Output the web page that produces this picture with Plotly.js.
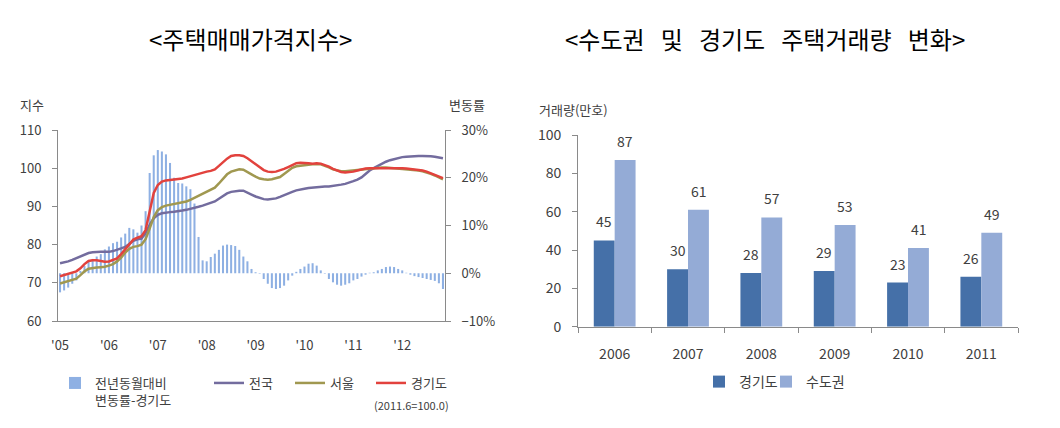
<!DOCTYPE html>
<html>
<head>
<meta charset="utf-8">
<script src="https://cdn.plot.ly/plotly-3.0.1.min.js"></script>
<style>html,body{margin:0;padding:0;background:#fff;}#chart{width:1060px;height:428px;}</style>
</head>
<body>
<div id="chart"></div>
<script>
// ---------- Left chart: 주택매매가격지수 (monthly, Jan 2005 – Nov 2012) ----------
const yearTickLabels = ["'05","'06","'07","'08","'09","'10","'11","'12"];
const nationalIndex = [75.1,75.3,75.6,76.0,76.5,77.0,77.5,77.8,78.0,78.1,78.1,78.1,
  78.1,78.3,78.6,79.0,79.4,80.2,81.0,81.4,81.6,83.0,85.2,86.9,
  87.8,88.2,88.4,88.5,88.6,88.7,88.9,89.1,89.3,89.5,89.9,90.2,
  90.5,90.9,91.3,92.0,92.8,93.4,93.8,94.0,94.1,94.1,93.7,93.1,
  92.6,92.2,91.9,91.8,91.9,92.1,92.5,93.0,93.4,93.8,94.2,94.5,
  94.6,94.8,94.9,95.0,95.2,95.2,95.2,95.3,95.4,95.7,95.9,96.2,
  96.6,97.0,97.6,98.5,99.4,100.0,100.6,101.2,101.7,102.1,102.4,102.7,
  102.9,103.0,103.1,103.2,103.2,103.2,103.2,103.1,103.0,102.8,102.6];
const seoulIndex = [69.8,70.1,70.4,70.7,71.1,72.0,73.0,73.7,73.9,74.0,74.1,74.2,
  74.5,74.9,75.6,76.6,77.9,78.9,79.4,79.6,80.0,81.4,84.2,87.2,
  89.0,89.8,90.2,90.4,90.6,90.8,91.0,91.3,91.7,92.2,92.7,93.2,
  93.7,94.2,94.9,96.0,97.3,98.4,99.1,99.5,99.7,99.6,99.1,98.4,
  97.8,97.3,97.1,97.0,97.1,97.3,97.7,98.5,99.4,100.1,100.5,100.7,
  100.8,100.9,101.0,101.1,101.0,100.7,100.2,99.7,99.4,99.2,99.2,99.3,
  99.4,99.6,99.8,99.9,100.0,100.0,100.1,100.2,100.2,100.1,100.1,100.0,
  99.9,99.8,99.7,99.6,99.4,99.2,98.9,98.5,98.1,97.6,97.1];
const gyeonggiIndex = [71.7,72.0,72.3,72.6,73.0,73.8,74.9,75.7,75.9,75.9,75.7,75.5,
  75.6,75.9,76.4,77.5,78.8,80.3,81.3,81.8,82.2,83.8,88.5,93.5,
  95.6,96.5,96.8,96.9,97.0,97.1,97.3,97.6,97.9,98.3,98.6,98.9,
  99.1,99.3,99.7,100.6,101.6,102.5,103.2,103.4,103.4,103.2,102.6,101.8,
  101.0,100.1,99.5,99.1,99.0,99.1,99.4,99.8,100.3,100.9,101.3,101.4,
  101.4,101.3,101.2,101.3,101.2,100.9,100.4,99.8,99.3,99.0,98.9,99.0,
  99.1,99.4,99.7,99.9,100.0,100.0,100.0,100.1,100.1,100.1,100.0,100.0,
  100.0,99.9,99.8,99.7,99.6,99.4,99.1,98.7,98.3,97.8,97.4];
const gyeonggiYoY = [-4.0,-3.6,-3.0,-2.2,-1.5,0.5,1.5,2.5,3.0,3.5,4.0,5.0,
  5.6,6.3,6.6,7.5,8.3,9.5,9.2,8.5,10.0,13.0,21.0,24.7,
  25.8,25.5,24.9,23.1,20.0,18.9,18.8,18.2,17.6,14.6,7.6,2.7,
  2.5,3.4,4.1,4.9,5.8,6.0,5.9,5.7,4.9,3.5,2.5,0.9,
  0.2,-0.1,-1.2,-2.2,-3.1,-3.3,-3.1,-2.6,-1.5,-0.5,0.3,0.9,
  1.4,2.0,2.1,1.6,0.6,-0.1,-1.2,-1.9,-2.4,-2.6,-2.4,-2.1,
  -1.5,-1.2,-0.7,-0.3,0.1,0.2,0.6,0.9,1.3,1.4,1.3,0.9,
  0.6,0.1,-0.3,-0.6,-0.8,-1.0,-1.2,-1.4,-1.6,-2.1,-3.3];
const leftSeriesNames = ["전년동월대비<br>변동률-경기도","전국","서울","경기도"];

// ---------- Right chart: 수도권 및 경기도 주택거래량 변화 ----------
const years = ["2006","2007","2008","2009","2010","2011"];
const gyeonggiVolume = [45,30,28,29,23,26];
const capitalVolume = [87,61,57,53,41,49];
const rightSeriesNames = ["경기도","수도권"];

// ---------- styles ----------
const FONT = "'Noto Sans CJK KR','Noto Sans',sans-serif";
const TXT = '#404040';
const AX = '#8a8a8a';
const W = 1060, H = 428;
const px = v => v / W;
const py = v => 1 - v / H;
const SP = '\u00a0\u00a0 ';

const months = gyeonggiIndex.map((_, i) => i);
const yearTicks = yearTickLabels.map((_, k) => k * 12);
const yearIdx = years.map((_, k) => k);

const traces = [
  {type:'bar', x:months, y:gyeonggiYoY, name:leftSeriesNames[0], xaxis:'x', yaxis:'y',
   width:0.5, marker:{color:'#8eb0e3'}, legend:'legend', showlegend:true, hoverinfo:'skip'},
  {type:'scatter', mode:'lines', x:months, y:nationalIndex, name:leftSeriesNames[1], xaxis:'x', yaxis:'y2',
   line:{color:'#736c9e', width:2.5}, legend:'legend3', showlegend:true},
  {type:'scatter', mode:'lines', x:months, y:seoulIndex, name:leftSeriesNames[2], xaxis:'x', yaxis:'y2',
   line:{color:'#a09850', width:2.5}, legend:'legend3', showlegend:true},
  {type:'scatter', mode:'lines', x:months, y:gyeonggiIndex, name:leftSeriesNames[3], xaxis:'x', yaxis:'y2',
   line:{color:'#e2423d', width:2.5}, legend:'legend3', showlegend:true},
  {type:'bar', x:yearIdx, y:gyeonggiVolume, name:rightSeriesNames[0], xaxis:'x2', yaxis:'y3',
   marker:{color:'#4570a8'}, legend:'legend2', showlegend:true},
  {type:'bar', x:yearIdx, y:capitalVolume, name:rightSeriesNames[1], xaxis:'x2', yaxis:'y3',
   marker:{color:'#94abd6'}, legend:'legend4', showlegend:true}
];

const ann = (text, x, y, size, color) => ({text, xref:'paper', yref:'paper', x:px(x), y:py(y),
  xanchor:'center', yanchor:'middle', showarrow:false, font:{family:FONT, size, color}});
const annotations = [
  ann('&lt;주택매매가격지수&gt;', 250, 39, 24, '#000'),
  ann('&lt;수도권' + SP + '및' + SP + '경기도' + SP + '주택거래량' + SP + '변화&gt;', 765, 39, 24, '#000'),
  ann('지수', 32, 104, 13, TXT),
  ann('변동률', 467, 104, 13, TXT),
  ann('(2011.6=100.0)', 411, 405, 11, TXT),
  ann('거래량(만호)', 573, 109, 13, TXT)
];
yearIdx.forEach(k => {
  annotations.push({text:String(gyeonggiVolume[k]), xref:'x2', yref:'y3', x:k, y:gyeonggiVolume[k],
    xanchor:'center', xshift:-10.5, yshift:19, yanchor:'middle', showarrow:false, font:{family:FONT, size:14, color:TXT}});
  annotations.push({text:String(capitalVolume[k]), xref:'x2', yref:'y3', x:k, y:capitalVolume[k],
    xanchor:'center', xshift:10.5, yshift:19, yanchor:'middle', showarrow:false, font:{family:FONT, size:14, color:TXT}});
});

const legendBase = size => ({orientation:'h', xanchor:'left', yanchor:'top',
  bgcolor:'rgba(0,0,0,0)', font:{family:FONT, size, color:TXT}, visible:true, traceorder:'normal'});

const layout = {
  width:W, height:H, margin:{l:0, r:0, t:0, b:0}, showlegend:true,
  paper_bgcolor:'#fff', plot_bgcolor:'rgba(0,0,0,0)',
  font:{family:FONT, size:13, color:TXT},
  barmode:'group', bargap:0.43, bargroupgap:0,
  xaxis:{domain:[px(58), px(445)], range:[-0.5, months.length - 0.5], anchor:'y',
    tickmode:'array', tickvals:yearTicks, ticktext:yearTickLabels, ticks:'', ticklabelstandoff:12,
    showline:true, linecolor:AX, linewidth:1, showgrid:false, zeroline:false,
    tickfont:{family:FONT, size:13, color:TXT}},
  yaxis:{domain:[py(321), py(130)], range:[-10, 30], side:'right', anchor:'x',
    dtick:10, ticksuffix:'%', ticks:'outside', ticklen:5, tickcolor:AX, ticklabelstandoff:8,
    showline:true, linecolor:AX, showgrid:false, zeroline:false, tickfont:{family:FONT, size:13, color:TXT}},
  yaxis2:{overlaying:'y', side:'left', range:[60, 110], anchor:'x', dtick:10,
    ticks:'outside', ticklen:5, tickcolor:AX, ticklabelstandoff:8,
    showline:true, linecolor:AX, showgrid:false, zeroline:false, tickfont:{family:FONT, size:13, color:TXT}},
  xaxis2:{domain:[px(578), px(1018)], range:[-0.5, years.length - 0.5], anchor:'y3',
    tickmode:'array', tickvals:yearIdx, ticktext:years,
    ticks:'', ticklabelstandoff:14,
    showline:true, linecolor:AX, showgrid:false, zeroline:false, tickfont:{family:FONT, size:14, color:TXT},
    minor:{tickmode:'array', tickvals:[-0.5].concat(yearIdx.map(k => k + 0.5)), ticks:'outside', ticklen:5, tickcolor:AX, showgrid:false}},
  yaxis3:{domain:[py(326.7), py(135)], range:[0, 100], anchor:'x2', dtick:20,
    ticks:'outside', ticklen:5, tickcolor:AX, ticklabelstandoff:8,
    showline:true, linecolor:AX, showgrid:false, zeroline:false, tickfont:{family:FONT, size:14, color:TXT}},
  legend:Object.assign(legendBase(13), {x:px(55), y:py(368), valign:'top'}),
  legend3:Object.assign(legendBase(13), {x:px(209), y:py(368), entrywidth:36, entrywidthmode:'pixels'}),
  legend2:Object.assign(legendBase(14), {x:px(699), y:py(366)}),
  legend4:Object.assign(legendBase(14), {x:px(766), y:py(366)}),
  annotations:annotations
};

Plotly.newPlot('chart', traces, layout, {staticPlot:true, displayModeBar:false});
</script>
</body>
</html>
